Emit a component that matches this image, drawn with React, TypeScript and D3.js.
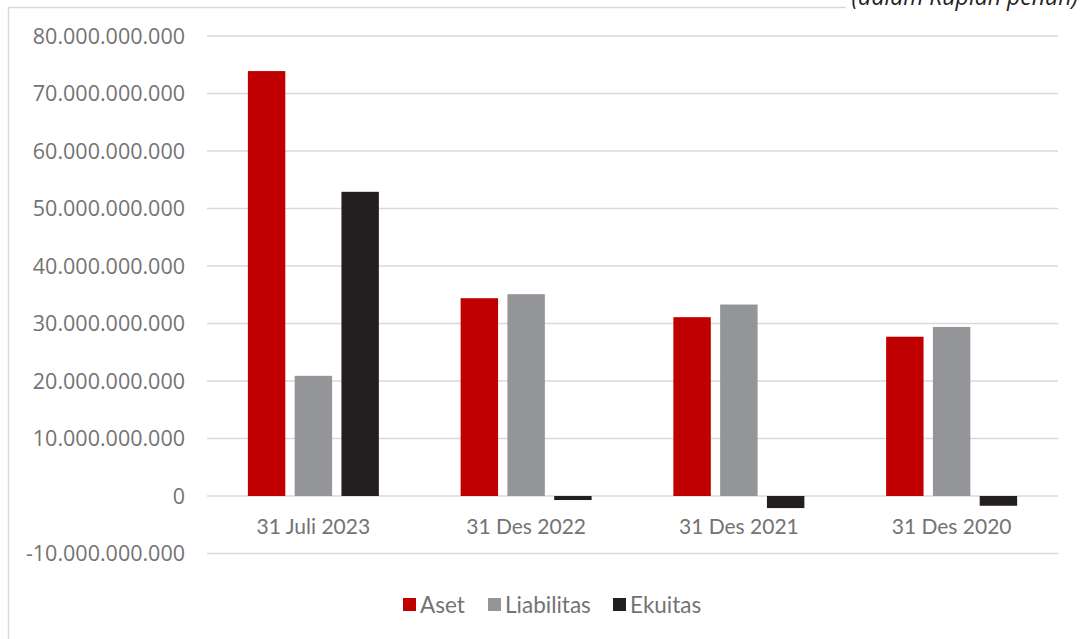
import { useEffect, useRef } from 'react'
import * as d3 from 'd3'

const categories = ['31 Juli 2023', '31 Des 2022', '31 Des 2021', '31 Des 2020']
const seriesNames = ['Aset', 'Liabilitas', 'Ekuitas']
const aset = [73.9e9, 34.4e9, 31.1e9, 27.7e9]
const liabilitas = [20.9e9, 35.1e9, 33.3e9, 29.4e9]
const ekuitas = [52.9e9, -0.7e9, -2.1e9, -1.7e9]
const yTicks = [-10e9, 0, 10e9, 20e9, 30e9, 40e9, 50e9, 60e9, 70e9, 80e9]
const colors = ['#c00000', '#939598', '#231f20']

const W = 1080
const H = 639

export default function App() {
  const svgRef = useRef<SVGSVGElement>(null)

  useEffect(() => {
    if (!svgRef.current) return
    const svg = d3.select(svgRef.current)
    svg.selectAll('*').remove()

    const series = [aset, liabilitas, ekuitas]
    const left = 207
    const right = 1058

    // chart frame
    svg.append('line').attr('x1', 8.5).attr('x2', 8.5).attr('y1', 7).attr('y2', H)
      .attr('stroke', '#d9d9d9').attr('stroke-width', 1.5)
    svg.append('line').attr('x1', 8).attr('x2', 846).attr('y1', 7.5).attr('y2', 7.5)
      .attr('stroke', '#d9d9d9').attr('stroke-width', 1.5)

    svg.append('text')
      .attr('x', 1078).attr('y', 5)
      .attr('text-anchor', 'end')
      .attr('font-family', 'Open Sans, sans-serif')
      .attr('font-style', 'italic')
      .attr('font-size', 23)
      .attr('fill', '#222')
      .text('(dalam Rupiah penuh)')

    const y = d3.scaleLinear().domain([-10e9, 80e9]).range([553.5, 36])
    const x0 = d3.scaleBand().domain(categories).range([left, right])
    const x1 = d3.scaleBand().domain(seriesNames).range([0, 131]).paddingInner(0.2)

    const fmt = (v: number) => d3.format(',')(v).replace(/,/g, '.').replace('\u2212', '-')

    // gridlines
    svg.append('g').selectAll('line').data(yTicks).join('line')
      .attr('x1', left).attr('x2', right)
      .attr('y1', (d) => y(d)).attr('y2', (d) => y(d))
      .attr('stroke', '#d9d9d9').attr('stroke-width', 1.5)

    // y tick labels
    svg.append('g').selectAll('text').data(yTicks).join('text')
      .attr('x', 185).attr('y', (d) => y(d) + 7.5)
      .attr('text-anchor', 'end')
      .attr('font-family', 'Open Sans, sans-serif')
      .attr('font-size', 21.5)
      .attr('fill', '#737373')
      .text((d) => fmt(d))

    // bars
    const groups = svg.append('g').selectAll('g').data(categories).join('g')
      .attr('transform', (d) => `translate(${(x0(d) ?? 0) + (x0.bandwidth() - 131) / 2},0)`)

    groups.selectAll('rect')
      .data((_, i) => series.map((s, k) => ({ name: seriesNames[k], value: s[i], color: colors[k] })))
      .join('rect')
      .attr('x', (d) => x1(d.name) ?? 0)
      .attr('width', x1.bandwidth())
      .attr('y', (d) => y(Math.max(0, d.value)))
      .attr('height', (d) => Math.abs(y(d.value) - y(0)))
      .attr('fill', (d) => d.color)

    // category labels
    svg.append('g').selectAll('text').data(categories).join('text')
      .attr('x', (d) => (x0(d) ?? 0) + x0.bandwidth() / 2)
      .attr('y', 534)
      .attr('text-anchor', 'middle')
      .attr('font-family', 'Lato, sans-serif')
      .attr('font-size', 21)
      .attr('fill', '#737373')
      .text((d) => d)

    // legend
    const legendX = [403, 488, 613]
    const legend = svg.append('g').selectAll('g').data(seriesNames).join('g')
      .attr('transform', (_, i) => `translate(${legendX[i]},598)`)
    legend.append('rect').attr('width', 13).attr('height', 13)
      .attr('fill', (_, i) => colors[i])
    legend.append('text').attr('x', 17).attr('y', 14.5)
      .attr('font-family', 'Lato, sans-serif')
      .attr('font-size', 22.5)
      .attr('fill', '#737373')
      .text((d) => d)
  }, [])

  return (
    <svg ref={svgRef} width={W} height={H}
      style={{ position: 'absolute', left: 0, top: 0, background: '#fff' }} />
  )
}
